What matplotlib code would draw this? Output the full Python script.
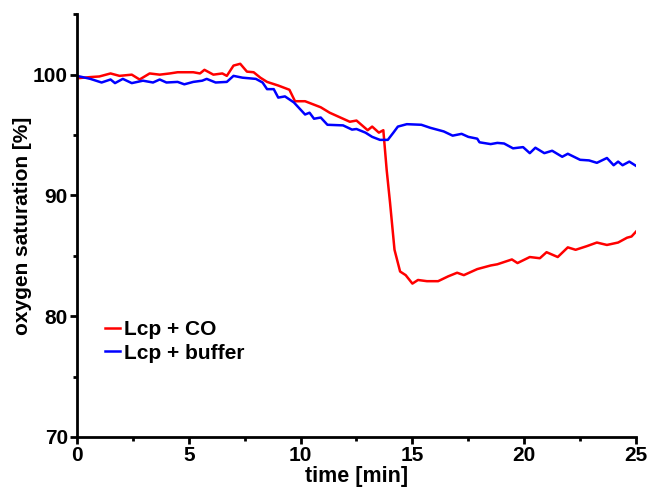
import matplotlib

matplotlib.use("Agg")
import matplotlib.pyplot as plt
from matplotlib.ticker import MultipleLocator

# values
time_co = [0.0, 0.6, 1.0, 1.5, 1.9, 2.45, 2.8, 3.25, 3.7, 4.15, 4.5, 5.2, 5.5, 5.7,
           6.1, 6.5, 6.7, 7.0, 7.3, 7.6, 7.9, 8.2, 8.5, 9.0, 9.5, 9.75, 10.2, 10.9,
           11.3, 12.2, 12.5, 13.0, 13.2, 13.5, 13.7, 13.85, 14.0, 14.2, 14.45, 14.7,
           15.0, 15.25, 15.65, 16.15, 16.6, 17.0, 17.3, 17.9, 18.5, 18.8, 19.45,
           19.7, 20.25, 20.7, 21.0, 21.5, 21.95, 22.3, 22.8, 23.25, 23.7, 24.2,
           24.6, 24.8, 25.0]
sat_co = [99.7, 99.8, 99.85, 100.1, 99.9, 100.0, 99.6, 100.1, 100.0, 100.1, 100.2,
          100.2, 100.1, 100.4, 100.0, 100.1, 99.9, 100.75, 100.9, 100.25, 100.2,
          99.75, 99.4, 99.1, 98.75, 97.8, 97.8, 97.3, 96.85, 96.1, 96.2, 95.4, 95.7,
          95.2, 95.4, 92.1, 89.4, 85.5, 83.7, 83.4, 82.7, 83.0, 82.9, 82.9, 83.3,
          83.6, 83.4, 83.9, 84.2, 84.3, 84.7, 84.4, 84.9, 84.8, 85.3, 84.9, 85.7,
          85.5, 85.8, 86.1, 85.9, 86.1, 86.5, 86.6, 87.0]

time_buf = [0.0, 0.6, 1.1, 1.5, 1.7, 2.05, 2.45, 2.95, 3.4, 3.7, 4.0, 4.5, 4.8, 5.2,
            5.6, 5.8, 6.2, 6.7, 7.0, 7.4, 8.0, 8.3, 8.5, 8.8, 9.0, 9.3, 9.7, 10.2,
            10.4, 10.6, 10.9, 11.2, 11.9, 12.3, 12.5, 12.9, 13.2, 13.55, 13.9, 14.15,
            14.35, 14.75, 15.4, 15.8, 16.4, 16.8, 17.2, 17.5, 17.9, 18.0, 18.5, 18.8,
            19.1, 19.5, 19.95, 20.25, 20.5, 20.9, 21.25, 21.7, 21.95, 22.5, 22.9,
            23.25, 23.7, 24.0, 24.2, 24.4, 24.7, 25.0]
sat_buf = [99.9, 99.65, 99.35, 99.6, 99.3, 99.65, 99.3, 99.5, 99.35, 99.6, 99.35,
           99.4, 99.2, 99.4, 99.5, 99.65, 99.35, 99.4, 99.9, 99.75, 99.65, 99.35,
           98.8, 98.8, 98.1, 98.2, 97.7, 96.7, 96.85, 96.35, 96.45, 95.85, 95.8,
           95.45, 95.5, 95.2, 94.85, 94.6, 94.6, 95.2, 95.7, 95.9, 95.85, 95.6, 95.3,
           94.95, 95.1, 94.85, 94.7, 94.4, 94.25, 94.35, 94.3, 93.9, 94.0, 93.5,
           93.95, 93.5, 93.7, 93.2, 93.45, 92.95, 92.9, 92.7, 93.1, 92.5, 92.8, 92.5,
           92.8, 92.45]

plt.rcParams["font.family"] = ["Liberation Sans", "DejaVu Sans"]
plt.rcParams["font.weight"] = "bold"

fig = plt.figure(figsize=(6.47, 4.87), dpi=100)
ax = fig.add_axes([0.119, 0.1027, 0.864, 0.868])

ax.plot(time_co, sat_co, color="#ff0000", linewidth=1.8, label="Lcp + CO")
ax.plot(time_buf, sat_buf, color="#0000ff", linewidth=1.8, label="Lcp + buffer")

ax.set_xlim(0, 25)
ax.set_ylim(70, 105)
ax.xaxis.set_major_locator(MultipleLocator(5))
ax.xaxis.set_minor_locator(MultipleLocator(2.5))
ax.yaxis.set_major_locator(MultipleLocator(10))
ax.yaxis.set_minor_locator(MultipleLocator(5))

for side in ("top", "right"):
    ax.spines[side].set_visible(False)
for side in ("left", "bottom"):
    ax.spines[side].set_linewidth(2.0)

ax.tick_params(which="major", length=5, width=2, labelsize=15, pad=1.5)
ax.tick_params(which="minor", length=3, width=2)
for lbl in ax.get_xticklabels() + ax.get_yticklabels():
    lbl.set_fontweight("bold")

ax.set_xlabel("time [min]", fontsize=15.5, fontweight="bold", labelpad=0.5)
ax.set_ylabel("oxygen saturation [%]", fontsize=15, fontweight="bold", labelpad=1)

leg = ax.legend(loc="upper left", bbox_to_anchor=(0.016, 0.32), frameon=False,
                fontsize=15, handlelength=0.72, handletextpad=0.2,
                labelspacing=0.2)
for text in leg.get_texts():
    text.set_fontweight("bold")

fig.savefig("out.png", dpi=100)
